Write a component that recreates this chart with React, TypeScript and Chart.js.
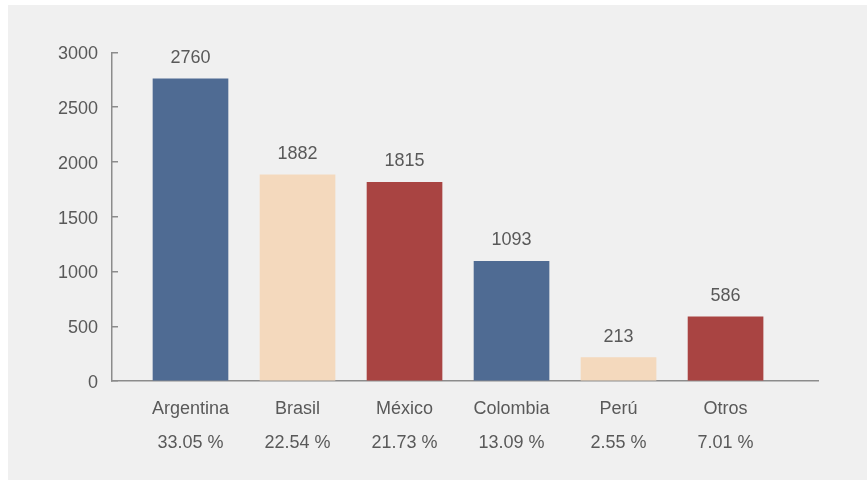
import React, { useEffect, useRef } from "react";
import { Chart, registerables } from "chart.js";

Chart.register(...registerables);

const categories = ["Argentina", "Brasil", "México", "Colombia", "Perú", "Otros"];
const shares = ["33.05 %", "22.54 %", "21.73 %", "13.09 %", "2.55 %", "7.01 %"];
const values = [2760, 1882, 1815, 1093, 213, 586];
const barColors = ["#4F6B93", "#F4D9BD", "#A94442", "#4F6B93", "#F4D9BD", "#A94442"];
const yTicks = [0, 500, 1000, 1500, 2000, 2500, 3000];

const FONT = "'Liberation Sans Narrow', 'Arial Narrow', 'Liberation Sans', Arial, sans-serif";
const FS = 18;
const TEXT = "#595959";
const AXIS = "#8c8c8c";

const valueLabels = {
  id: "valueLabels",
  afterDatasetsDraw(chart: any) {
    const ctx = chart.ctx;
    const meta = chart.getDatasetMeta(0);
    ctx.save();
    ctx.font = `${FS}px ${FONT}`;
    ctx.fillStyle = TEXT;
    ctx.textAlign = "center";
    ctx.textBaseline = "alphabetic";
    meta.data.forEach((el: any, i: number) => {
      ctx.fillText(String(values[i]), el.x, el.y - 16);
    });
    ctx.restore();
  },
};

export default function App() {
  const ref = useRef<HTMLCanvasElement | null>(null);

  useEffect(() => {
    if (!ref.current) return;
    const chart = new Chart(ref.current, {
      type: "bar",
      data: {
        datasets: [
          {
            data: values.map((v, i) => ({ x: i, y: v })),
            backgroundColor: barColors,
            barThickness: 75,
          } as any,
        ],
      },
      options: {
        animation: false,
        responsive: false,
        layout: { padding: { left: 0, right: 49, top: 47.5, bottom: 0 } },
        plugins: { legend: { display: false }, tooltip: { enabled: false } },
        scales: {
          x: {
            type: "linear",
            position: "bottom",
            offset: false,
            min: -0.7336,
            max: 5.864,
            grid: { display: false, offset: false },
            border: { display: true, color: AXIS, width: 1.5 },
            afterBuildTicks: (s: any) => {
              s.ticks = categories.map((_, i) => ({ value: i }));
            },
            afterFit: (s: any) => {
              s.height = 99;
            },
            ticks: {
              autoSkip: false,
              maxRotation: 0,
              padding: 3,
              color: TEXT,
              font: { family: FONT, size: FS, lineHeight: 34 / FS },
              callback: (v: any) => [categories[v], shares[v]],
            },
          },
          y: {
            type: "linear",
            min: 0,
            max: 3000,
            grid: {
              drawOnChartArea: false,
              drawTicks: true,
              tickLength: -6,
              color: AXIS,
              lineWidth: 1.5,
            },
            border: { display: true, color: AXIS, width: 1.5 },
            afterBuildTicks: (s: any) => {
              s.ticks = yTicks.map((v) => ({ value: v }));
            },
            afterFit: (s: any) => {
              s.width = 104;
            },
            ticks: {
              padding: 20,
              labelOffset: 2,
              color: TEXT,
              font: { family: FONT, size: FS },
              callback: (v: any) => String(v),
            },
          },
        },
      },
      plugins: [valueLabels],
    });
    return () => chart.destroy();
  }, []);

  return (
    <div
      style={{
        position: "fixed",
        left: 8,
        top: 5,
        width: 859,
        height: 475,
        background: "#f0f0f0",
      }}
    >
      <canvas ref={ref} width={859} height={475} style={{ display: "block" }} />
    </div>
  );
}
